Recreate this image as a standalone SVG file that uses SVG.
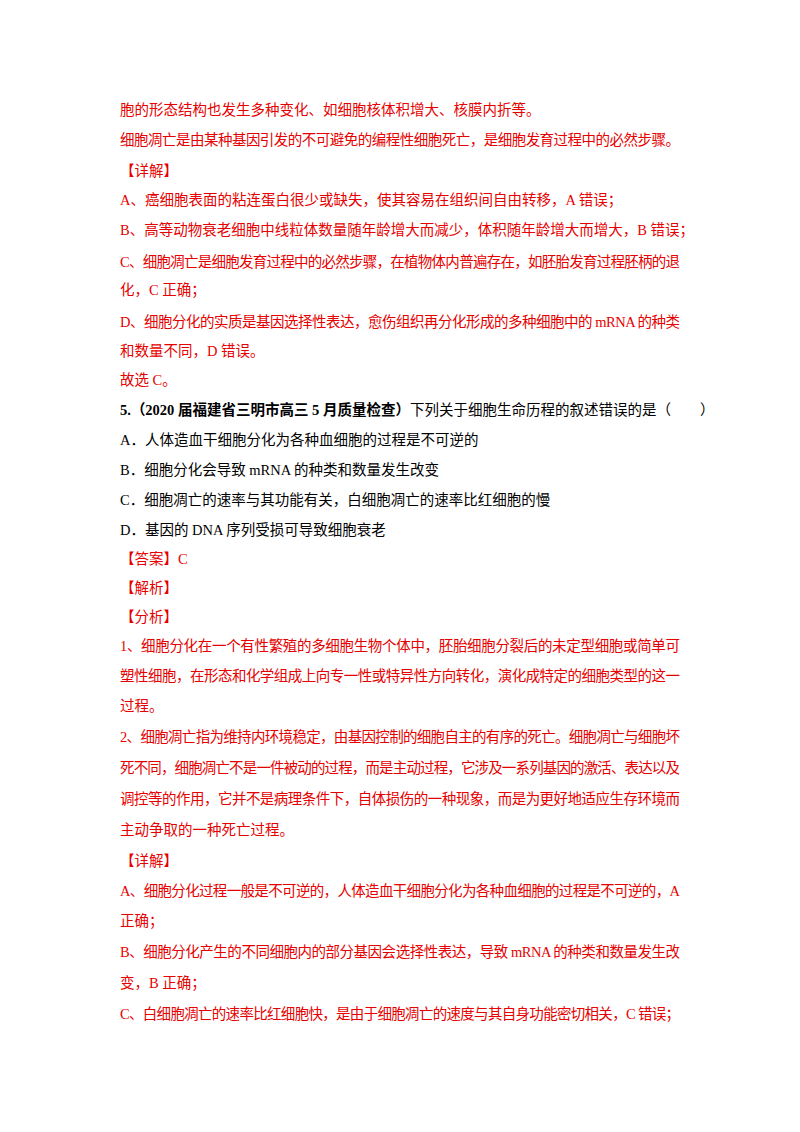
<svg xmlns="http://www.w3.org/2000/svg" width="800" height="1132" viewBox="0 0 800 1132">
<style>
text{font-family:"Liberation Serif","Noto Sans CJK SC",serif;font-size:14.5px}
.r{fill:#e60000}
.k{fill:#000}
</style>
<rect width="800" height="1132" fill="#fff"/>
<g id="text">
<text class="r" x="120" y="115">胞的形态结构也发生多种变化、如细胞核体积增大、核膜内折等。</text>
<text class="r" x="120" y="145" textLength="560" lengthAdjust="spacing">细胞凋亡是由某种基因引发的不可避免的编程性细胞死亡，是细胞发育过程中的必然步骤。</text>
<text class="r" x="120" y="176">【详解】</text>
<text class="r" x="120" y="205">A、癌细胞表面的粘连蛋白很少或缺失，使其容易在组织间自由转移，A 错误；</text>
<text class="r" x="120" y="235">B、高等动物衰老细胞中线粒体数量随年龄增大而减少，体积随年龄增大而增大，B 错误；</text>
<text class="r" x="120" y="267" textLength="560" lengthAdjust="spacing">C、细胞凋亡是细胞发育过程中的必然步骤，在植物体内普遍存在，如胚胎发育过程胚柄的退</text>
<text class="r" x="120" y="295">化，C 正确；</text>
<text class="r" x="120" y="327" textLength="560" lengthAdjust="spacing">D、细胞分化的实质是基因选择性表达，愈伤组织再分化形成的多种细胞中的 mRNA 的种类</text>
<text class="r" x="120" y="356">和数量不同，D 错误。</text>
<text class="r" x="120" y="385">故选 C。</text>
<text class="k" x="120" y="415"><tspan font-weight="bold">5.（2020 届福建省三明市高三 5 月质量检查）</tspan>下列关于细胞生命历程的叙述错误的是（　　）</text>
<text class="k" x="120" y="445">A．人体造血干细胞分化为各种血细胞的过程是不可逆的</text>
<text class="k" x="120" y="475">B．细胞分化会导致 mRNA 的种类和数量发生改变</text>
<text class="k" x="120" y="505">C．细胞凋亡的速率与其功能有关，白细胞凋亡的速率比红细胞的慢</text>
<text class="k" x="120" y="535">D．基因的 DNA 序列受损可导致细胞衰老</text>
<text class="r" x="120" y="564">【答案】C</text>
<text class="r" x="120" y="593">【解析】</text>
<text class="r" x="120" y="622">【分析】</text>
<text class="r" x="120" y="651" textLength="560" lengthAdjust="spacing">1、细胞分化在一个有性繁殖的多细胞生物个体中，胚胎细胞分裂后的未定型细胞或简单可</text>
<text class="r" x="120" y="681" textLength="560" lengthAdjust="spacing">塑性细胞，在形态和化学组成上向专一性或特异性方向转化，演化成特定的细胞类型的这一</text>
<text class="r" x="120" y="711">过程。</text>
<text class="r" x="120" y="742" textLength="560" lengthAdjust="spacing">2、细胞凋亡指为维持内环境稳定，由基因控制的细胞自主的有序的死亡。细胞凋亡与细胞坏</text>
<text class="r" x="120" y="773" textLength="560" lengthAdjust="spacing">死不同，细胞凋亡不是一件被动的过程，而是主动过程，它涉及一系列基因的激活、表达以及</text>
<text class="r" x="120" y="804" textLength="560" lengthAdjust="spacing">调控等的作用，它并不是病理条件下，自体损伤的一种现象，而是为更好地适应生存环境而</text>
<text class="r" x="120" y="835">主动争取的一种死亡过程。</text>
<text class="r" x="120" y="866">【详解】</text>
<text class="r" x="120" y="896" textLength="560" lengthAdjust="spacing">A、细胞分化过程一般是不可逆的，人体造血干细胞分化为各种血细胞的过程是不可逆的，A</text>
<text class="r" x="120" y="926">正确；</text>
<text class="r" x="120" y="957" textLength="560" lengthAdjust="spacing">B、细胞分化产生的不同细胞内的部分基因会选择性表达，导致 mRNA 的种类和数量发生改</text>
<text class="r" x="120" y="988">变，B 正确；</text>
<text class="r" x="120" y="1019" textLength="560" lengthAdjust="spacing">C、白细胞凋亡的速率比红细胞快，是由于细胞凋亡的速度与其自身功能密切相关，C 错误；</text>
</g>
</svg>
